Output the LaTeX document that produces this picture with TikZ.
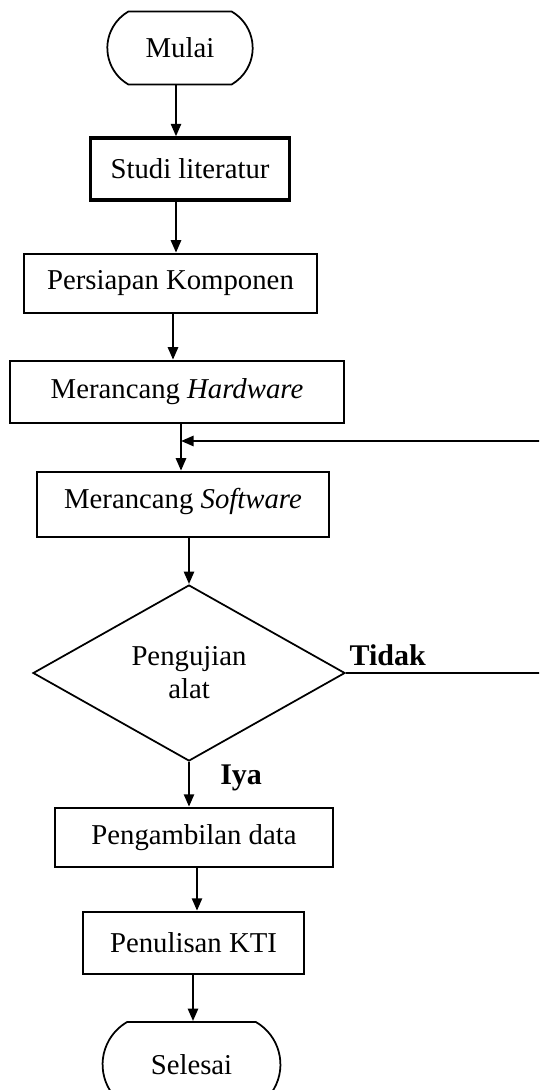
\documentclass[tikz,border=0pt]{standalone}
\usepackage{fontspec}
\setmainfont{Liberation Serif}
\usetikzlibrary{arrows.meta, shapes.geometric, shapes.misc}

\begin{document}
\begin{tikzpicture}[
  x=0.4pt, y=-0.4pt,
  font=\fontsize{11.5}{13.2}\selectfont,
  terminal/.style={draw, rounded rectangle, rounded rectangle arc length=120,
    line width=0.7pt},
  proses/.style={draw, line width=1pt, align=center},
  keputusan/.style={draw, diamond, aspect=1.77, line width=0.7pt,
    inner sep=0pt, align=center, minimum width=124.8pt, minimum height=70.4pt},
  jawab/.style={font=\fontsize{12}{14}\selectfont\bfseries, inner sep=0pt},
  arrow/.style={-{Triangle[length=5pt, width=4pt]}, line width=1pt}
]
  \clip (0,0) rectangle (539,1090);

  % Blocks
  \node[terminal, minimum width=64.8pt, minimum height=29.2pt]
    (mulai) at (180,48) {Mulai};
  \node[proses, line width=1.3pt, minimum width=79.6pt, minimum height=24.8pt]
    (studi) at (190,169) {Studi literatur};
  \node[proses, minimum width=117.2pt, minimum height=23.6pt]
    (persiapan) at (170.5,283.5) {Persiapan Komponen};
  \node[proses, minimum width=133.6pt, minimum height=24.8pt]
    (hardware) at (177,392) {Merancang \textit{Hardware}};
  \node[proses, minimum width=116.8pt, minimum height=26pt, text depth=5pt]
    (software) at (183,504.5) {Merancang \textit{Software}};
  \node[keputusan] (uji) at (189,673) {Pengujian\\ alat};
  \node[proses, minimum width=111.2pt, minimum height=23.6pt]
    (ambil) at (194,837.5) {Pengambilan data};
  \node[proses, minimum width=88.4pt, minimum height=24.8pt]
    (tulis) at (193.5,943) {Penulisan KTI};
  \node[terminal, minimum width=77.8pt, minimum height=34pt]
    (selesai) at (191.5,1064.5) {Selesai};

  % Loop back point and right edge
  \coordinate (gabung) at (181,441);
  \coordinate (tepi) at (546,0);

  % Arrows
  \draw[arrow] (mulai.south -| 176,0) -- (studi.north -| 176,0);
  \draw[arrow] (studi.south -| 176,0) -- (persiapan.north -| 176,0);
  \draw[arrow] (persiapan.south -| 173,0) -- (hardware.north -| 173,0);
  \draw[arrow] (hardware.south -| gabung) -- (software.north -| gabung);
  \draw[arrow] (software.south -| uji) -- (uji.north);
  \draw[arrow] (uji.south) -- node[jawab, pos=0.35, right, xshift=12pt]
    {Iya} (ambil.north -| uji);
  \draw[arrow] (ambil.south -| 197,0) -- (tulis.north -| 197,0);
  \draw[arrow] (tulis.south -| 193,0) -- (selesai.north -| 193,0);
  \draw[arrow] (uji.east) node[jawab, anchor=base west, xshift=1pt, yshift=3.2pt]
    {Tidak} -- (uji.east -| tepi) |- (gabung);
\end{tikzpicture}
\end{document}
